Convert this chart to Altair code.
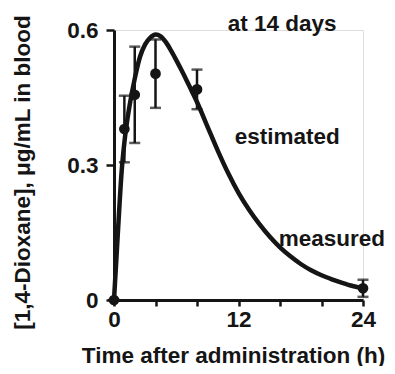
import altair as alt
import pandas as pd

# measured data (mean, error half-width)
time_h = [0, 1, 2, 4, 8, 24]
conc = [0.0, 0.38, 0.456, 0.503, 0.468, 0.026]
err = [0.0, 0.074, 0.107, 0.076, 0.044, 0.019]

# estimated curve
curve_t = [0, 0.25, 0.5, 0.75, 1, 1.25, 1.5, 2, 2.5, 3, 3.5, 4, 4.5, 5, 5.5,
           6, 6.5, 7, 7.5, 8, 9, 10, 11, 12, 13, 14, 15, 16, 17, 18, 19, 20,
           21, 22, 23, 24]
curve_c = [0, 0.1, 0.2, 0.29, 0.35, 0.395, 0.432, 0.492, 0.54, 0.568, 0.583,
           0.59, 0.586, 0.573, 0.554, 0.533, 0.511, 0.488, 0.464, 0.44, 0.386,
           0.332, 0.282, 0.238, 0.201, 0.169, 0.141, 0.117, 0.097, 0.080,
           0.066, 0.055, 0.046, 0.038, 0.031, 0.026]

labels = ["at 14 days", "estimated", "measured"]
label_t = [16.2, 16.7, 21.0]
label_c = [0.614, 0.363, 0.136]

FONT = "Liberation Sans"
INK = "#151515"
FS = 22.5

meas = pd.DataFrame({"t": time_h, "c": conc, "e": err})
meas["lo"] = meas["c"] - meas["e"]
meas["hi"] = meas["c"] + meas["e"]
curve = pd.DataFrame({"t": curve_t, "c": curve_c})
ann = pd.DataFrame({"label": labels, "t": label_t, "c": label_c})

xscale = alt.Scale(domain=[0, 24], nice=False)
yscale = alt.Scale(domain=[0, 0.6], nice=False)

xaxis = alt.Axis(
    values=list(range(0, 25)),
    labelExpr="datum.value % 12 == 0 ? datum.label : ''",
    title="Time after administration (h)",
    grid=False, domainWidth=3, domainColor=INK, tickColor=INK,
    tickWidth=2.5, tickSize=6, labelFont=FONT, labelFontSize=FS,
    labelFontWeight="bold", labelColor=INK, labelPadding=2,
    titleFont=FONT, titleFontSize=FS, titleFontWeight="bold",
    titleColor=INK, titleX=119, titleY=44, titleAlign="center",
    titleBaseline="top", labelFlush=False,
)
yaxis = alt.Axis(
    values=[0, 0.3, 0.6], format="~g",
    title="[1,4-Dioxane], μg/mL in blood",
    grid=False, domainWidth=3, domainColor=INK, tickColor=INK,
    tickWidth=2.5, tickSize=8, labelFont=FONT, labelFontSize=FS,
    labelFontWeight="bold", labelColor=INK, labelPadding=8,
    titleFont=FONT, titleFontSize=FS, titleFontWeight="bold",
    titleColor=INK, titlePadding=32, titleY=142, titleAlign="center",
)

base = alt.Chart(meas)

line = alt.Chart(curve).mark_line(
    color=INK, strokeWidth=4.5, interpolate="monotone", clip=False
).encode(
    x=alt.X("t:Q", scale=xscale, axis=xaxis),
    y=alt.Y("c:Q", scale=yscale, axis=yaxis),
)

bars = base.mark_rule(color=INK, strokeWidth=2.5).encode(
    x="t:Q", y="lo:Q", y2="hi:Q"
)
cap_lo = base.mark_tick(color=INK, orient="horizontal", size=11,
                        thickness=2.5).encode(x="t:Q", y="lo:Q")
cap_hi = base.mark_tick(color=INK, orient="horizontal", size=11,
                        thickness=2.5).encode(x="t:Q", y="hi:Q")
pts = base.mark_circle(color=INK, opacity=1, size=115).encode(
    x="t:Q", y="c:Q"
)

text = alt.Chart(ann).mark_text(
    font=FONT, fontSize=FS, fontWeight="bold", color=INK,
    align="center", baseline="middle"
).encode(x="t:Q", y="c:Q", text="label:N")

chart = alt.layer(line, bars, cap_lo, cap_hi, pts, text).properties(
    width=249, height=270,
    autosize=alt.AutoSizeParams(type="none"),
    padding={"left": 106, "top": 22, "right": 24, "bottom": 66},
).configure_view(stroke=None).configure(background="white")

chart.save("out.html", embed_options={"renderer": "svg", "actions": False})
